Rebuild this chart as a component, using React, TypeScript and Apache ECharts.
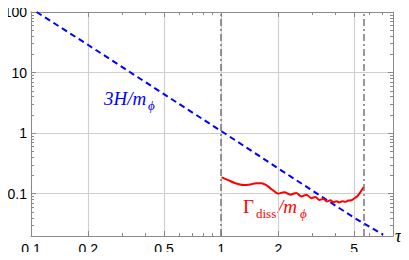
import React, { useEffect, useRef } from "react";
import * as echarts from "echarts";

// ---- data ----
const xMajor = [0.1, 0.2, 0.5, 1, 2, 5];
const xMinor = [0.3, 0.4, 0.6, 0.7, 0.8, 0.9, 3, 4, 6, 7];
const yMajor = [0.1, 1, 10, 100];
const yMinor = [
  0.02, 0.03, 0.04, 0.05, 0.06, 0.07, 0.08, 0.09,
  0.2, 0.3, 0.4, 0.5, 0.6, 0.7, 0.8, 0.9,
  2, 3, 4, 5, 6, 7, 8, 9,
  20, 30, 40, 50, 60, 70, 80, 90,
];
const markerTaus = [1, 5.6];

const hubbleTau = [0.107, 0.2, 0.5, 1, 2, 5, 7.1];
const hubbleVal = [100, 28.5, 4.4, 1.08, 0.26, 0.04, 0.021];

const gammaTau = [
  1.008, 1.088, 1.185, 1.305, 1.421, 1.528, 1.624, 1.725, 1.855, 1.995,
  2.146, 2.307, 2.481, 2.637, 2.802, 2.977, 3.125, 3.281, 3.443, 3.592,
  3.748, 3.886, 4.03, 4.178, 4.334, 4.494, 4.66, 4.832, 5.012, 5.197,
  5.39, 5.61,
];
const gammaVal = [
  0.186, 0.167, 0.149, 0.139, 0.142, 0.149, 0.149, 0.138, 0.116, 0.1,
  0.106, 0.0963, 0.1027, 0.0899, 0.0963, 0.0843, 0.0885, 0.0787, 0.082, 0.0743,
  0.0778, 0.0721, 0.0749, 0.0721, 0.0749, 0.0738, 0.0772, 0.0778, 0.0839, 0.0909,
  0.1059, 0.129,
];

const FRAME = "#8a8a8a";

function xAxisDef(position: string, ticks: number[], len: number, main: boolean) {
  return {
    type: "log",
    position,
    min: 0.1,
    max: 8,
    axisLine: { show: main, onZero: false, lineStyle: { color: FRAME, width: 1 } },
    axisTick: { show: true, inside: true, length: len, customValues: ticks, lineStyle: { color: FRAME, width: 1 } },
    axisLabel:
      main && position === "bottom"
        ? {
            show: true,
            customValues: xMajor,
            formatter: (v: number) => String(+(+v).toPrecision(3)),
            color: "#000",
            fontSize: 14,
            fontFamily: "Liberation Sans",
            margin: 6,
          }
        : { show: false },
    splitLine:
      main && position === "bottom"
        ? { show: true, lineStyle: { color: "#cfcfcf", width: 1.2 } }
        : { show: false },
    name: main && position === "bottom" ? "τ" : "",
    nameLocation: "end",
    nameGap: 2,
    nameTextStyle: {
      fontFamily: "Liberation Serif",
      fontStyle: "italic",
      fontSize: 18,
      color: "#000",
      padding: [10, 0, 0, 0],
    },
  };
}

function yAxisDef(position: string, ticks: number[], len: number, main: boolean) {
  return {
    type: "log",
    position,
    min: 0.02,
    max: 100,
    axisLine: { show: main, onZero: false, lineStyle: { color: FRAME, width: 1 } },
    axisTick: { show: true, inside: true, length: len, customValues: ticks, lineStyle: { color: FRAME, width: 1 } },
    axisLabel:
      main && position === "left"
        ? {
            show: true,
            customValues: yMajor,
            formatter: (v: number) => String(+(+v).toPrecision(3)),
            color: "#000",
            fontSize: 14,
            fontFamily: "Liberation Sans",
            margin: 4,
          }
        : { show: false },
    splitLine:
      main && position === "left"
        ? { show: true, lineStyle: { color: "#cfcfcf", width: 1.2 } }
        : { show: false },
  };
}

export default function App() {
  const ref = useRef<HTMLDivElement>(null);
  useEffect(() => {
    if (!ref.current) return;
    const chart = echarts.init(ref.current, null, { renderer: "svg" });
    const serif = '"Liberation Serif", "DejaVu Serif", serif';
    chart.setOption({
      animation: false,
      backgroundColor: "#fff",
      grid: { left: 31, right: 16, top: 12, bottom: 24, containLabel: false },
      xAxis: [
        xAxisDef("bottom", xMajor, 5, true),
        xAxisDef("bottom", xMinor, 3, false),
        xAxisDef("top", xMajor, 5, true),
        xAxisDef("top", xMinor, 3, false),
      ],
      yAxis: [
        yAxisDef("left", yMajor, 5, true),
        yAxisDef("left", yMinor, 3, false),
        yAxisDef("right", yMajor, 5, true),
        yAxisDef("right", yMinor, 3, false),
      ],
      series: [
        {
          name: "markers",
          type: "line",
          xAxisIndex: 0,
          yAxisIndex: 0,
          data: [],
          z: 2,
          markLine: {
            silent: true,
            symbol: ["none", "none"],
            label: { show: false },
            lineStyle: { color: "#777", width: 1.5, type: [7, 3, 2, 3] },
            data: markerTaus.map((t) => ({ xAxis: t })),
          },
        },
        {
          name: "3H/m",
          type: "line",
          xAxisIndex: 0,
          yAxisIndex: 0,
          showSymbol: false,
          symbol: "none",
          z: 3,
          lineStyle: { color: "#0000ff", width: 2, type: [6, 4] },
          data: hubbleTau.map((t, i) => [t, hubbleVal[i]]),
        },
        {
          name: "Gamma/m",
          type: "line",
          xAxisIndex: 0,
          yAxisIndex: 0,
          showSymbol: false,
          symbol: "none",
          smooth: 0.3,
          z: 4,
          lineStyle: { color: "#ff0000", width: 2 },
          data: gammaTau.map((t, i) => [t, gammaVal[i]]),
        },
      ],
      graphic: [
        { type: "text", left: 104, top: 89, style: { text: "3H/m", font: `italic 19px ${serif}`, fill: "#0000ff" } },
        { type: "text", left: 148, top: 99, style: { text: "ϕ", font: `italic 13px ${serif}`, fill: "#0000ff" } },
        { type: "text", left: 243, top: 197, style: { text: "Γ", font: `19px ${serif}`, fill: "#ff0000" } },
        { type: "text", left: 256, top: 207, style: { text: "diss", font: `13px ${serif}`, fill: "#ff0000" } },
        { type: "text", left: 278, top: 197, style: { text: "/m", font: `italic 19px ${serif}`, fill: "#ff0000" } },
        { type: "text", left: 300, top: 207, style: { text: "ϕ", font: `italic 13px ${serif}`, fill: "#ff0000" } },
      ],
    });
    return () => chart.dispose();
  }, []);
  return <div ref={ref} style={{ width: 409, height: 260, margin: -8 }} />;
}
